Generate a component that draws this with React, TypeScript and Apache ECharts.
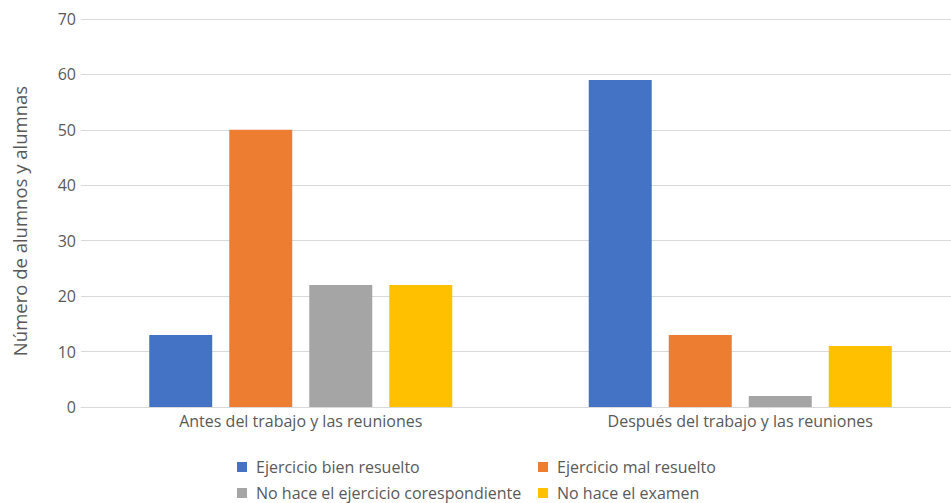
import React, { useEffect, useRef } from "react";
import * as echarts from "echarts";

const categories = ["Antes del trabajo y las reuniones", "Después del trabajo y las reuniones"];
const seriesNames = [
  "Ejercicio bien resuelto",
  "Ejercicio mal resuelto",
  "No hace el ejercicio corespondiente",
  "No hace el examen",
];
const bienResuelto = [13, 59];
const malResuelto = [50, 13];
const noHaceEjercicio = [22, 2];
const noHaceExamen = [22, 11];
const colors = ["#4472C4", "#ED7D31", "#A5A5A5", "#FFC000"];
const yTicks = { min: 0, max: 70, interval: 10 };
const yTitle = "Número de alumnos y alumnas";

const FONT = "'Open Sans', 'Noto Sans', sans-serif";

export default function App() {
  const ref = useRef<HTMLDivElement>(null);
  useEffect(() => {
    if (!ref.current) return;
    const chart = echarts.init(ref.current, null, { renderer: "svg" });
    const values = [bienResuelto, malResuelto, noHaceEjercicio, noHaceExamen];
    const legendPos = [
      { left: 237, top: 459 },
      { left: 538, top: 459 },
      { left: 237, top: 485 },
      { left: 538, top: 485 },
    ];
    chart.setOption({
      animation: false,
      textStyle: { fontFamily: FONT },
      grid: { left: 81, right: 0, top: 19, bottom: 96 },
      legend: seriesNames.map((name, i) => ({
        left: legendPos[i].left,
        top: legendPos[i].top,
        data: [name],
        itemWidth: 10,
        itemHeight: 10,
        itemGap: 10,
        icon: "rect",
        padding: 0,
        textStyle: { color: "#595959", fontSize: 16, fontFamily: FONT, padding: [0, 0, 0, 4] },
      })),
      xAxis: {
        type: "category",
        data: categories,
        axisTick: { show: false },
        axisLine: { lineStyle: { color: "#d9d9d9" } },
        axisLabel: { color: "#595959", fontSize: 16, margin: 6, fontFamily: FONT },
      },
      yAxis: {
        type: "value",
        min: yTicks.min,
        max: yTicks.max,
        interval: yTicks.interval,
        name: yTitle,
        nameLocation: "middle",
        nameGap: 52,
        nameTextStyle: { color: "#595959", fontSize: 18.5, fontFamily: FONT, padding: [0, 16, 0, 0] },
        axisLine: { show: false },
        axisTick: { show: false },
        axisLabel: { color: "#595959", fontSize: 16, margin: 5, fontFamily: FONT },
        splitLine: { lineStyle: { color: "#d9d9d9" } },
      },
      series: seriesNames.map((name, i) => ({
        name,
        type: "bar",
        data: values[i],
        barWidth: 63,
        barGap: "27%",
        itemStyle: { color: colors[i] },
      })),
    });
    return () => chart.dispose();
  }, []);
  return (
    <div
      style={{ position: "absolute", left: 0, top: 0, width: 951, height: 503, overflow: "hidden", background: "#fff" }}
    >
      <div ref={ref} style={{ width: 960, height: 503 }} />
    </div>
  );
}
